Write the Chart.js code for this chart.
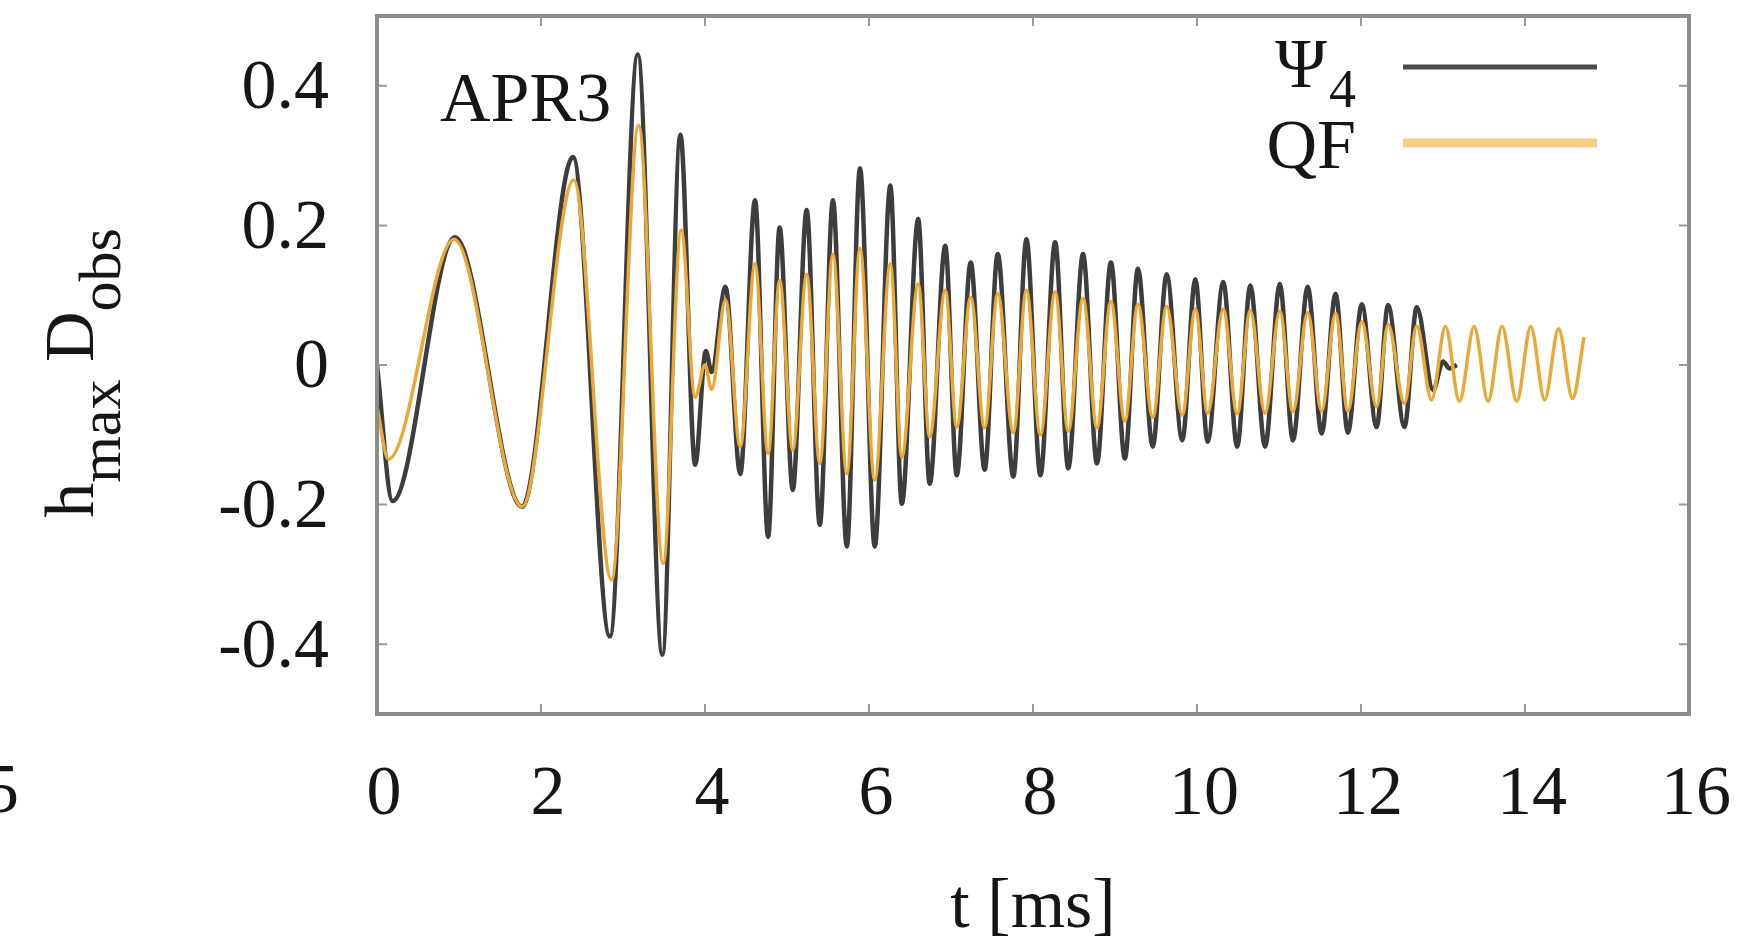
<!DOCTYPE html>
<html>
<head>
<meta charset="utf-8">
<script src="https://cdn.jsdelivr.net/npm/chart.js@4.4.0/dist/chart.umd.min.js"></script>
<style>
  html, body { margin: 0; padding: 0; background: #ffffff; }
  #wrap { width: 1748px; height: 947px; position: relative; }
  canvas { display: block; filter: blur(0.6px); }
</style>
</head>
<body>
<div id="wrap"><canvas id="c" width="1748" height="947"></canvas></div>
<script>
// ---- data ----
const psi4T = [0, 0.19, 0.95, 1.77, 2.39, 2.84, 3.18, 3.48, 3.70, 3.88, 4.01, 4.08, 4.25, 4.43, 4.61, 4.77, 4.91, 5.07, 5.24, 5.40, 5.56, 5.73, 5.89, 6.07, 6.26, 6.40, 6.60, 6.74, 6.93, 7.07, 7.24, 7.41, 7.57, 7.76, 7.92, 8.09, 8.27, 8.43, 8.61, 8.78, 8.95, 9.12, 9.28, 9.46, 9.63, 9.82, 9.98, 10.13, 10.32, 10.49, 10.65, 10.83, 11.01, 11.17, 11.35, 11.52, 11.69, 11.84, 12.01, 12.19, 12.33, 12.53, 12.68, 12.88, 13.00, 13.08, 13.17];
const psi4V = [0.0, -0.195, 0.183, -0.203, 0.298, -0.389, 0.445, -0.415, 0.330, -0.143, 0.020, -0.010, 0.112, -0.156, 0.236, -0.246, 0.197, -0.179, 0.222, -0.229, 0.236, -0.260, 0.282, -0.260, 0.257, -0.199, 0.209, -0.170, 0.171, -0.158, 0.147, -0.150, 0.159, -0.160, 0.180, -0.158, 0.176, -0.148, 0.159, -0.141, 0.147, -0.134, 0.138, -0.117, 0.130, -0.108, 0.123, -0.110, 0.119, -0.117, 0.114, -0.117, 0.116, -0.108, 0.112, -0.098, 0.102, -0.097, 0.087, -0.089, 0.086, -0.089, 0.083, -0.036, 0.005, -0.005, 0.0];

const qfT = [0, 0.14, 0.94, 1.77, 2.40, 2.86, 3.19, 3.49, 3.71, 3.88, 4.00, 4.08, 4.25, 4.43, 4.61, 4.77, 4.91, 5.07, 5.24, 5.40, 5.56, 5.73, 5.89, 6.07, 6.26, 6.40, 6.60, 6.74, 6.93, 7.07, 7.24, 7.41, 7.57, 7.76, 7.92, 8.09, 8.27, 8.43, 8.61, 8.78, 8.95, 9.12, 9.28, 9.46, 9.63, 9.82, 9.98, 10.13, 10.32, 10.49, 10.65, 10.83, 11.01, 11.17, 11.35, 11.52, 11.69, 11.84, 12.01, 12.19, 12.33, 12.53, 12.68, 12.86, 13.03, 13.20, 13.38, 13.55, 13.72, 13.90, 14.07, 14.24, 14.41, 14.58, 14.72];
const qfV = [-0.06, -0.135, 0.180, -0.203, 0.265, -0.308, 0.343, -0.284, 0.193, -0.046, 0.000, -0.035, 0.093, -0.117, 0.145, -0.127, 0.121, -0.122, 0.130, -0.141, 0.159, -0.156, 0.167, -0.165, 0.145, -0.132, 0.116, -0.103, 0.107, -0.089, 0.097, -0.090, 0.102, -0.097, 0.107, -0.100, 0.105, -0.095, 0.096, -0.090, 0.091, -0.080, 0.087, -0.075, 0.084, -0.072, 0.080, -0.069, 0.080, -0.070, 0.078, -0.069, 0.077, -0.067, 0.075, -0.066, 0.074, -0.066, 0.062, -0.060, 0.058, -0.055, 0.056, -0.050, 0.055, -0.052, 0.055, -0.052, 0.055, -0.052, 0.055, -0.050, 0.052, -0.048, 0.040];

const xTickValues = [0, 2, 4, 6, 8, 10, 12, 14, 16];
const xTickLabels = ['0', '2', '4', '6', '8', '10', '12', '14', '16'];
const yTickValues = [-0.4, -0.2, 0, 0.2, 0.4];
const yTickLabels = ['-0.4', '-0.2', '0', '0.2', '0.4'];

const seriesNames = ['Ψ', 'QF'];       // legend main text
const seriesSubs = ['4', ''];          // legend subscripts
const panelLabel = 'APR3';
const xTitle = 't [ms]';
const yTitleParts = [['h', false], ['max', true], [' D', false], ['obs', true]];
const edgeFragment = '5';

// ---- styling ----
const FONT = '"Liberation Serif", "Times New Roman", Times, serif';
const TXT = '#161616';
const PSI_COLOR = '#3d3d3d';
const QF_COLOR = '#EAA838';

const pts = (ts, vs) => ts.map((t, i) => ({ x: t, y: vs[i] }));

const decor = {
  id: 'decor',
  afterDatasetsDraw(chart) {
    const ctx = chart.ctx;
    const a = chart.chartArea;
    const xs = chart.scales.x, ys = chart.scales.y;
    ctx.save();
    // inward ticks on all four sides
    ctx.strokeStyle = '#9a9a9a';
    ctx.lineWidth = 2;
    const tl = 10;
    xTickValues.forEach(v => {
      const px = xs.getPixelForValue(v);
      ctx.beginPath();
      ctx.moveTo(px, a.bottom); ctx.lineTo(px, a.bottom - tl);
      ctx.moveTo(px, a.top); ctx.lineTo(px, a.top + tl);
      ctx.stroke();
    });
    yTickValues.forEach(v => {
      const py = ys.getPixelForValue(v);
      ctx.beginPath();
      ctx.moveTo(a.left, py); ctx.lineTo(a.left + tl, py);
      ctx.moveTo(a.right, py); ctx.lineTo(a.right - tl, py);
      ctx.stroke();
    });
    // frame
    ctx.strokeStyle = '#8c8c8c';
    ctx.lineWidth = 4;
    ctx.strokeRect(a.left, a.top, a.right - a.left, a.bottom - a.top);

    // panel label
    ctx.fillStyle = TXT;
    ctx.textBaseline = 'alphabetic';
    ctx.textAlign = 'left';
    ctx.font = '70px ' + FONT;
    ctx.fillText(panelLabel, 440, 121);

    // legend
    const legendRows = [{ base: 87, ly: 67, col: '#4a4a4a', w: 5 }, { base: 168, ly: 143, col: '#F5CE86', w: 9 }];
    legendRows.forEach((row, k) => {
      const name = seriesNames[k], sub = seriesSubs[k];
      ctx.textAlign = 'right';
      let right = 1356;
      if (sub) {
        ctx.font = '54px ' + FONT;
        ctx.fillText(sub, right, row.base + 20);
        right -= ctx.measureText(sub).width + 2;
      }
      ctx.font = '70px ' + FONT;
      ctx.fillText(name, right, row.base);
      ctx.strokeStyle = row.col;
      ctx.lineWidth = row.w;
      ctx.beginPath();
      ctx.moveTo(1403, row.ly); ctx.lineTo(1597, row.ly);
      ctx.stroke();
    });

    // y-axis title (rotated, with subscripts)
    ctx.save();
    ctx.translate(93, 373);
    ctx.rotate(-Math.PI / 2);
    ctx.textAlign = 'left';
    let total = 0;
    yTitleParts.forEach(([t, s]) => {
      ctx.font = (s ? '60px ' : '70px ') + FONT;
      total += ctx.measureText(t).width;
    });
    let x = -total / 2;
    yTitleParts.forEach(([t, s]) => {
      ctx.font = (s ? '60px ' : '70px ') + FONT;
      ctx.fillText(t, x, s ? 27 : 0);
      x += ctx.measureText(t).width;
    });
    ctx.restore();

    // cropped neighbour-panel digit at the far left edge
    ctx.font = '70px ' + FONT;
    ctx.textAlign = 'right';
    ctx.textBaseline = 'middle';
    ctx.fillText(edgeFragment, 19, 794);
    ctx.restore();
  }
};

new Chart(document.getElementById('c').getContext('2d'), {
  type: 'line',
  data: {
    datasets: [
      { label: 'QF', data: pts(qfT, qfV), borderColor: QF_COLOR, borderWidth: 3.5,
        pointRadius: 0, cubicInterpolationMode: 'monotone', fill: false, order: 0 },
      { label: 'Ψ4', data: pts(psi4T, psi4V), borderColor: PSI_COLOR, borderWidth: 4.5,
        pointRadius: 0, cubicInterpolationMode: 'monotone', fill: false, order: 1 }
    ]
  },
  options: {
    responsive: false,
    animation: false,
    devicePixelRatio: 1,
    layout: { padding: { left: 0, top: 16, right: 59, bottom: 0 } },
    plugins: { legend: { display: false }, tooltip: { enabled: false } },
    scales: {
      x: {
        type: 'linear', min: 0, max: 16, position: 'bottom',
        grid: { display: false, drawTicks: false },
        border: { display: false },
        afterBuildTicks: s => { s.ticks = xTickValues.map(v => ({ value: v })); },
        afterFit: s => { s.height = 233; s.paddingLeft = 0; s.paddingRight = 0; },
        ticks: {
          autoSkip: false, maxRotation: 0, minRotation: 0, padding: 40, labelOffset: 7, color: TXT,
          font: { family: FONT, size: 70 },
          callback: (v, i) => xTickLabels[i]
        },
        title: {
          display: true, text: xTitle, color: TXT,
          font: { family: FONT, size: 70 }, padding: { top: 0, bottom: -4 }
        }
      },
      y: {
        type: 'linear', min: -0.5, max: 0.5, position: 'left',
        grid: { display: false, drawTicks: false },
        border: { display: false },
        afterBuildTicks: s => { s.ticks = yTickValues.map(v => ({ value: v })); },
        afterFit: s => { s.width = 377; s.paddingTop = 0; s.paddingBottom = 0; },
        ticks: {
          autoSkip: false, padding: 48, labelOffset: 4, color: TXT,
          font: { family: FONT, size: 70 },
          callback: (v, i) => yTickLabels[i]
        }
      }
    }
  },
  plugins: [decor]
});
</script>
</body>
</html>
